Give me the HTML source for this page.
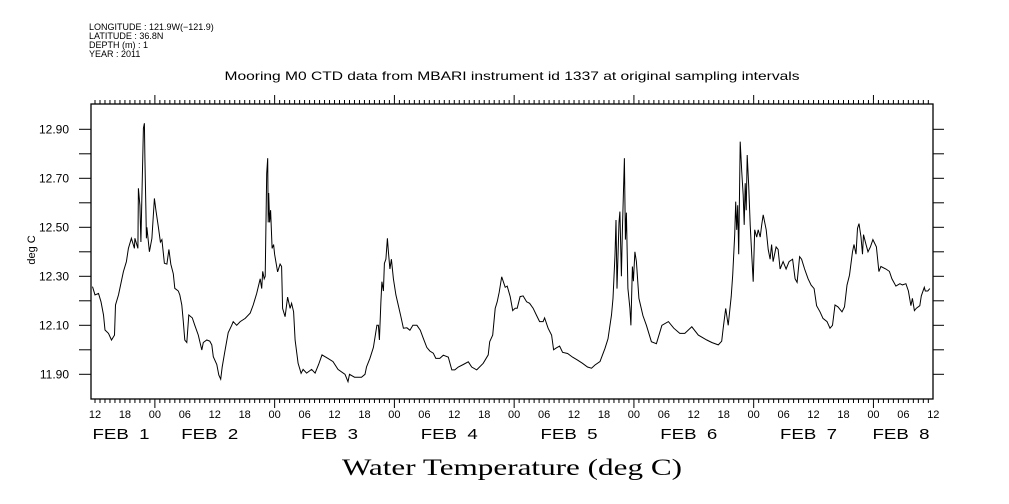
<!DOCTYPE html>
<html><head><meta charset="utf-8"><style>
body{margin:0;background:#fff;}
svg{display:block;font-family:"Liberation Sans",sans-serif;}
</style></head><body>
<svg id="chart" width="1009" height="504" viewBox="0 0 1009 504">
<g font-size="9" fill="#000">
<text x="89" y="30">LONGITUDE : 121.9W(−121.9)</text>
<text x="89" y="39">LATITUDE : 36.8N</text>
<text x="89" y="48">DEPTH (m) : 1</text>
<text x="89" y="57">YEAR : 2011</text>
</g>
<text x="512" y="80" font-size="12" text-anchor="middle" textLength="575" lengthAdjust="spacingAndGlyphs">Mooring M0 CTD data from MBARI instrument id 1337 at original sampling intervals</text>
<text x="0" y="0" font-size="11" text-anchor="middle" transform="translate(35,250) rotate(-90)">deg C</text>
<text x="512" y="475" font-size="23" text-anchor="middle" font-family="Liberation Serif, serif" textLength="340" lengthAdjust="spacingAndGlyphs">Water Temperature (deg C)</text>
<rect x="91" y="104" width="842" height="295" fill="none" stroke="#000" stroke-width="1.3"/>
<g id="axes"></g>
<path id="series" fill="none" stroke="#000" stroke-width="1"/>
</svg>
<script>
const yTicks=[11.9,12.0,12.1,12.2,12.3,12.4,12.5,12.6,12.7,12.8,12.9];
const yLabels=["11.90","12.10","12.30","12.50","12.70","12.90"];
const xTickLabels=["12","18","00","06","12","18","00","06","12","18","00","06","12","18","00","06","12","18","00","06","12","18","00","06","12","18","00","06","12"];
const dayLabels=["FEB  1","FEB  2","FEB  3","FEB  4","FEB  5","FEB  6","FEB  7","FEB  8"];
const hours=[-0.5,0,0.7,1.2,1.7,2,2.7,3.3,3.9,4.1,4.7,5.7,6.3,6.7,7.3,7.9,8.0,8.6,8.7,9.0,9.2,9.7,9.9,10.0,10.2,10.3,10.4,10.9,11.4,11.9,12.2,12.7,13.1,13.4,13.9,14.4,14.8,15.2,15.7,16.0,16.7,17.0,17.4,17.7,18.0,18.4,18.8,19.5,20.0,20.7,21.4,21.7,22.4,23.0,23.4,23.7,24.4,24.8,25.2,25.5,26.0,26.7,27.4,27.7,28.4,29.1,30.1,31.1,31.7,32.4,33.1,33.4,33.6,33.9,34.1,34.4,34.6,34.7,34.8,35.0,35.2,35.5,35.8,36.0,36.6,37.1,37.4,37.6,38.1,38.6,39.1,39.4,39.8,40.1,40.7,41.3,41.7,42.4,43.4,44.1,44.8,45.5,46.7,47.7,48.7,50.1,50.7,51.0,52.0,53.4,54.1,54.4,55.1,55.8,56.5,56.8,57.0,57.3,57.5,57.8,58.0,58.3,58.6,58.8,59.1,59.4,59.8,60.3,60.8,61.3,61.8,62.5,63.1,63.7,64.5,65.2,65.8,66.5,67.1,67.8,68.3,69.1,69.8,70.8,71.5,72.1,72.8,73.8,74.8,75.5,76.5,77.8,78.8,79.1,79.7,80.2,80.6,81.0,81.5,82.2,82.6,83.2,83.7,84.2,84.6,85.2,85.8,86.5,87.1,87.8,88.5,89.1,89.8,90.1,90.8,91.5,91.9,92.4,93.1,93.7,94.7,95.7,96.7,97.7,98.7,99.5,100.2,101.2,102.2,102.8,103.5,103.8,104.2,104.4,104.6,105.0,105.2,105.5,105.7,106.1,106.3,106.5,106.8,107.2,107.4,107.7,107.9,108.2,108.5,109.0,109.8,110.5,111.5,112.5,113.6,114.9,116.0,117.2,118.2,119.6,120.9,122.6,123.6,124.9,125.6,125.9,126.4,126.9,127.5,127.8,128.2,128.4,128.6,128.8,129.0,129.3,129.6,129.9,130.1,130.3,130.5,130.7,131.0,131.3,131.6,131.9,132.2,132.6,132.9,133.3,133.6,133.9,134.5,134.9,135.3,135.6,135.9,136.5,136.9,137.3,137.9,138.5,139.1,139.8,140.3,140.7,141.2,141.6,142.2,142.9,143.5,144.1,144.6,145.3,145.9,146.7,147.3,147.8,148.3,148.9,149.7,150.2,150.7,151.2,151.8,152.1,152.5,152.8,153.1,153.5,153.8,154.0,154.5,154.9,155.4,155.9,156.6,157.1,157.5,158.5,159.2,159.7,160.5,161.3,161.8,162.5,163.0,163.5,163.8,164.2,164.6,165.3,165.6,166.2,166.4,166.9,167.3];
const temps=[12.258,12.224,12.23,12.196,12.142,12.081,12.067,12.04,12.06,12.183,12.224,12.319,12.36,12.414,12.455,12.414,12.455,12.414,12.659,12.59,12.44,12.904,12.925,12.782,12.571,12.455,12.5,12.40,12.455,12.618,12.57,12.50,12.44,12.45,12.353,12.35,12.41,12.35,12.31,12.251,12.24,12.224,12.183,12.115,12.04,12.03,12.142,12.13,12.10,12.06,11.999,12.03,12.04,12.035,12.02,11.972,11.94,11.897,11.88,11.93,11.99,12.07,12.10,12.115,12.10,12.115,12.128,12.15,12.183,12.23,12.29,12.25,12.32,12.29,12.30,12.72,12.782,12.52,12.64,12.52,12.57,12.414,12.43,12.39,12.318,12.35,12.34,12.169,12.135,12.215,12.169,12.19,12.155,12.04,11.945,11.904,11.92,11.905,11.92,11.905,11.94,11.979,11.965,11.952,11.92,11.90,11.87,11.90,11.888,11.888,11.90,11.93,11.965,12.01,12.10,12.10,12.04,12.196,12.278,12.24,12.353,12.37,12.455,12.40,12.33,12.37,12.29,12.224,12.18,12.135,12.088,12.09,12.08,12.10,12.10,12.08,12.047,12.01,11.995,11.986,11.965,11.965,11.978,11.97,11.918,11.918,11.93,11.94,11.951,11.93,11.918,11.945,11.979,12.033,12.06,12.169,12.196,12.235,12.298,12.255,12.26,12.217,12.16,12.17,12.17,12.217,12.22,12.196,12.19,12.17,12.14,12.115,12.115,12.13,12.088,12.06,12.0,12.007,12.015,11.99,11.985,11.97,11.958,11.945,11.93,11.925,11.938,11.952,12.006,12.045,12.142,12.21,12.387,12.53,12.25,12.52,12.564,12.30,12.49,12.782,12.45,12.56,12.251,12.17,12.10,12.34,12.28,12.40,12.36,12.21,12.14,12.10,12.033,12.025,12.10,12.115,12.088,12.067,12.067,12.094,12.06,12.04,12.03,12.02,12.035,12.088,12.169,12.10,12.217,12.305,12.469,12.605,12.49,12.59,12.39,12.85,12.73,12.63,12.51,12.68,12.57,12.795,12.67,12.51,12.39,12.278,12.49,12.46,12.49,12.46,12.51,12.551,12.49,12.41,12.37,12.43,12.36,12.42,12.41,12.33,12.36,12.33,12.36,12.37,12.29,12.275,12.38,12.37,12.33,12.29,12.264,12.25,12.18,12.155,12.128,12.115,12.088,12.10,12.183,12.175,12.155,12.175,12.264,12.305,12.40,12.43,12.39,12.496,12.515,12.46,12.39,12.47,12.43,12.40,12.42,12.45,12.42,12.319,12.34,12.33,12.32,12.29,12.26,12.27,12.265,12.27,12.24,12.18,12.21,12.16,12.17,12.18,12.22,12.255,12.24,12.24,12.25];

const X0=95, PXH=4.99, Y0=374.3, PXV=245, LEFT=91, RIGHT=933, TOP=104, BOT=399;
function xs(h){return X0+h*PXH;}
function ys(v){return Y0-(v-11.9)*PXV;}
const NS="http://www.w3.org/2000/svg";
const axes=document.getElementById('axes');
function line(x1,y1,x2,y2,name){const l=document.createElementNS(NS,'line');
l.setAttribute('x1',x1);l.setAttribute('y1',y1);l.setAttribute('x2',x2);l.setAttribute('y2',y2);
l.setAttribute('stroke','#000');l.setAttribute('stroke-width','1');


axes.appendChild(l);}
function text(x,y,s,size,anchor,name){const t=document.createElementNS(NS,'text');
t.setAttribute('x',x);t.setAttribute('y',y);t.setAttribute('font-size',size);t.setAttribute('text-anchor',anchor);
t.setAttribute('xml:space','preserve');t.style.whiteSpace='pre';t.textContent=s;


axes.appendChild(t);return t;}
yTicks.forEach(v=>{const y=ys(v);line(LEFT-12,y,LEFT,y,'y-tick-left');line(RIGHT,y,RIGHT+11,y,'y-tick-right');});
yLabels.forEach(s=>{text(69,ys(parseFloat(s))+4,s,12,'end','y-tick-label');});
for(let h=-0;h<=168;h++){const x=xs(h);if(x<LEFT||x>RIGHT)continue;
 const day=((h+12)%24===0);
 line(x,TOP,x,TOP-(day?9:4),'x-tick-top');
 line(x,BOT,x,BOT+(day?9:4),'x-tick-bottom');}
xTickLabels.forEach((s,i)=>{text(xs(i*6),418,s,11,'middle','x-tick-label');});
dayLabels.forEach((s,i)=>{let c=xs(i*24)-5;if(c<121)c=121;if(c>901)c=901;
 const t=text(c,439,s,15,'middle','date-label');t.setAttribute('textLength','57');t.setAttribute('lengthAdjust','spacingAndGlyphs');});
let d='';hours.forEach((h,i)=>{d+=(i?'L':'M')+xs(h).toFixed(1)+' '+ys(temps[i]).toFixed(1);});
document.getElementById('series').setAttribute('d',d);
</script>
</body></html>
